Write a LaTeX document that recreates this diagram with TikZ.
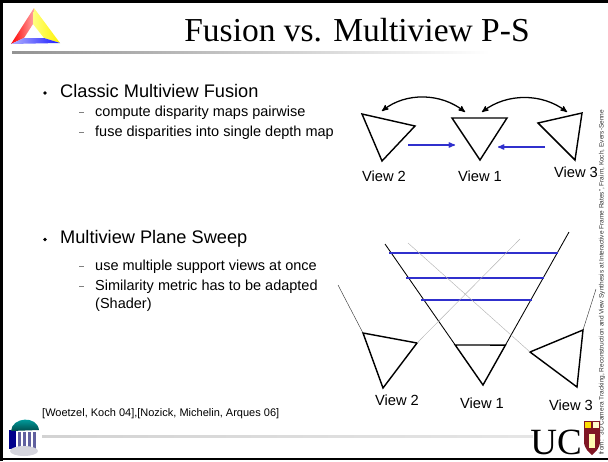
\documentclass[tikz,border=0pt]{standalone}
\usepackage{fontspec}
\setmainfont{Liberation Sans}
\newfontfamily\titlefont{Liberation Serif}
\usepackage{xcolor}
\usepackage{tikz}
\usetikzlibrary{calc,arrows}

\definecolor{planeblue}{RGB}{48,48,205}
\definecolor{crest}{RGB}{128,22,36}

\begin{document}
\begin{tikzpicture}[x=1pt,y=-1pt,>=stealth',
        bigitem/.style={anchor=base west,inner sep=0,font=\fontsize{18.2}{20}\selectfont},
        smallitem/.style={anchor=base west,inner sep=0,font=\fontsize{14.5}{16}\selectfont},
        viewname/.style={inner sep=0,font=\fontsize{14.7}{16}\selectfont},
        cam/.style={line width=0.5mm,line join=miter},
        ray/.style={line width=0.3mm},
        thinray/.style={line width=0.15mm,gray!60}]
    \useasboundingbox (0,0) rectangle (608,461);

    % slide frame and header
    \draw[line width=0.8mm] (1.5,461) -- (1.5,1.5) -- (608,1.5);
    \draw[line width=0.8mm] (0,459) -- (608,459);
    \shade[left color=gray!85, right color=white] (12,51) rectangle (490,53.5);
    \shade[left color=gray!35, middle color=gray!85, right color=gray!20] (42,435) rectangle (533,437.5);

    % triangle logo
    \coordinate (o1) at (34,8);  \coordinate (o2) at (11,44); \coordinate (o3) at (60,43);
    \coordinate (i1) at (33,24); \coordinate (i2) at (24,38); \coordinate (i3) at (44,38);
    \shade[left color=red, right color=red!35] (o1) -- (o2) -- (i2) -- (i1) -- cycle;
    \shade[left color=yellow!50, right color=yellow!90!orange] (o1) -- (i1) -- (i3) -- (o3) -- cycle;
    \shade[left color=blue!30, right color=blue!90] (o2) -- (o3) -- (i3) -- (i2) -- cycle;

    \node[anchor=base,inner sep=0,font=\titlefont\fontsize{33.5}{36}\selectfont] (title) at (357,41) {Fusion vs. Multiview P-S};

    % bullets
    \node[bigitem] (classic) at (60,97.5) {Classic Multiview Fusion};
    \node[smallitem] (compute) at (95,116.5) {compute disparity maps pairwise};
    \node[smallitem] (fuse) at (95,136.5) {fuse disparities into single depth map};
    \node[bigitem] (sweep) at (60,243.5) {Multiview Plane Sweep};
    \node[smallitem] (support) at (95,270.5) {use multiple support views at once};
    \node[smallitem] (metric) at (95,290.5) {Similarity metric has to be adapted};
    \node[smallitem] (shader) at (95,308) {(Shader)};
    \foreach \y in {93,239.5}{
        \fill (45,\y) circle (1.9pt);
    }
    \foreach \y in {112.3,132,266,286}{
        \draw[gray,line width=0.6] (79,\y) -- (84,\y);
    }
    \node[anchor=base west,inner sep=0,font=\fontsize{11}{12}\selectfont] (refs) at (42,416) {[Woetzel, Koch 04],[Nozick, Michelin, Arques 06]};

    % fusion: three cameras
    \coordinate (a2) at (362,114); \coordinate (b2) at (415,126); \coordinate (c2) at (382,161);
    \coordinate (a1) at (452,118); \coordinate (b1) at (507,118); \coordinate (c1) at (480,160);
    \coordinate (a3) at (538,123); \coordinate (b3) at (582,113); \coordinate (c3) at (575,160);
    \foreach \i in {1,2,3}{
        \draw[cam] (a\i) -- (b\i) -- (c\i) -- cycle;
    }
    \coordinate (top2) at (382,111); \coordinate (top1l) at (465,112);
    \coordinate (top1r) at (482,112); \coordinate (top3) at (567,112);
    \draw[<->,line width=0.45mm] (top2) .. controls +(24,-19) and +(-24,-19) .. (top1l);
    \draw[<->,line width=0.45mm] (top1r) .. controls +(25,-19) and +(-25,-19) .. (top3);
    \coordinate (src2) at (408,145); \coordinate (dst2) at (455,145);
    \coordinate (src3) at (545,147); \coordinate (dst3) at (498,147);
    \draw[->,planeblue,line width=0.45mm] (src2) -- (dst2);
    \draw[->,planeblue,line width=0.45mm] (src3) -- (dst3);
    \node[viewname] (v2) at (384,176) {View 2};
    \node[viewname] (v1) at (480,176) {View 1};
    \node[viewname] (v3) at (576,172) {View 3};

    % plane sweep
    \coordinate (apex) at (483,385);
    \coordinate (coneL) at (385,244);
    \coordinate (coneR) at (569,232);
    \coordinate (tl) at ($(apex)!0.284!(coneL)$);
    \coordinate (tr) at ($(apex)!0.261!(coneR)$);
    \draw[ray] (tl) -- (coneL);
    \draw[ray] (tr) -- (coneR);
    \draw[cam] (tl) -- (apex) -- (tr) -- cycle;
    \foreach \y/\xa/\xb in {253/389/558, 278/406/544, 300/421/532}{
        \draw[planeblue,line width=0.5mm] (\xa,\y) -- (\xb,\y);
    }
    \coordinate (p2) at (363,333); \coordinate (q2) at (417,343); \coordinate (r2) at (383,388);
    \coordinate (p3) at (530,352); \coordinate (q3) at (583,330); \coordinate (r3) at (577,387);
    \draw[cam] (p2) -- (q2) -- (r2) -- cycle;
    \draw[cam] (p3) -- (q3) -- (r3) -- cycle;
    \draw[line width=0.15mm,gray!40!black] (p2) -- (338,285);
    \draw[thinray] (q2) -- (520,239);
    \draw[thinray] (p3) -- (408,243);
    \draw[line width=0.15mm,gray!40!black] (q3) -- (596,289);
    \node[viewname] (w2) at (397,400) {View 2};
    \node[viewname] (w1) at (482,403) {View 1};
    \node[viewname] (w3) at (571,405) {View 3};

    % side credit
    \node[rotate=90,anchor=west,inner sep=0,gray!40!black,font=\fontsize{6.5}{7}\selectfont] (credit) at (602,455)
        {from: "3D Camera Tracking, Reconstruction and View Synthesis at Interactive Frame Rates", Fraim, Koch, Evers-Senne};

    % old well
    \fill[blue!55!black] (9,430) rectangle (16,449);
    \foreach \x in {18,23,28,33}{
        \fill[blue!25!gray] (\x,432) rectangle (\x+2.5,450);
    }
    \fill[blue!10!gray!30] (24,451) ellipse (14pt and 5pt);
    \shade[top color=cyan!45!teal, bottom color=teal!60!black] (11,431) .. controls (12,417) and (37,415) .. (39,430) -- cycle;

    % UC crest
    \node[anchor=base east,inner sep=0,text depth=0pt,font=\titlefont\fontsize{37}{37}\selectfont] (uc) at (582,454) {UC};
    \fill[crest] (584,421) -- (600,421) -- (600,441) .. controls (600,449) and (595,452) .. (592,455)
        .. controls (589,452) and (584,449) .. (584,441) -- cycle;
    \fill[yellow!80!orange] (585,422) rectangle (591,428);
    \fill[white!80!yellow] (593,422) rectangle (599,428);
    \fill[white!70!yellow] (589,434) rectangle (595,448);
\end{tikzpicture}
\end{document}
